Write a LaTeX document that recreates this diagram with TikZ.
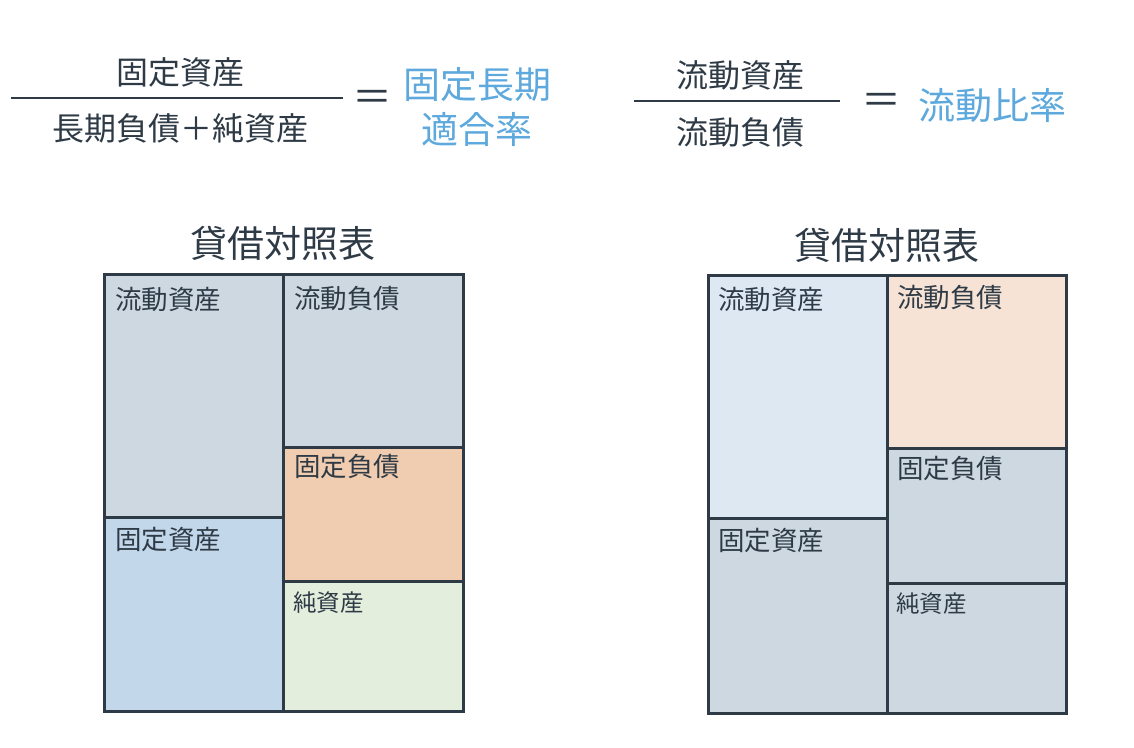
\documentclass[tikz,border=0pt]{standalone}
\usepackage{fontspec}
\setmainfont{Noto Sans CJK JP}
\definecolor{ink}{HTML}{2E3A45}
\definecolor{accent}{HTML}{5DA8DC}
\definecolor{grayblue}{HTML}{CDD8E1}
\definecolor{midblue}{HTML}{C2D7EA}
\definecolor{paleblue}{HTML}{DDE8F3}
\definecolor{orange}{HTML}{F0CDB0}
\definecolor{paleorange}{HTML}{F6E3D6}
\definecolor{palegreen}{HTML}{E3EFDC}
\tikzset{
  cell/.style={draw=ink, line width=2.8pt, anchor=north west, inner sep=0pt},
  lbl/.style={anchor=west, inner sep=0pt, text=ink, font=\fontsize{26.5}{30}\selectfont},
  slbl/.style={anchor=west, inner sep=0pt, text=ink, font=\fontsize{23.5}{27}\selectfont},
  ftxt/.style={inner sep=0pt, text=ink, font=\fontsize{32}{36}\selectfont},
  res/.style={inner sep=0pt, text=accent, font=\fontsize{37}{45}\selectfont, align=center},
  eq/.style={inner sep=0pt, text=ink, font=\fontsize{40}{44}\selectfont},
  ttl/.style={inner sep=0pt, text=ink, font=\fontsize{37}{42}\selectfont},
  bar/.style={draw=ink, line width=2pt}
}
\begin{document}
\begin{tikzpicture}[x=1pt,y=-1pt]
\useasboundingbox (0,0) rectangle (1134,747);
% Formula 1
\node[ftxt] (n1) at (180,72) {固定資産};
\node[ftxt] (d1) at (180,128) {長期負債＋純資産};
\coordinate (b1l) at (11,98);
\coordinate (b1r) at (343,98);
\draw[bar] (b1l) -- (b1r);
\node[eq] (e1) at (372,101) {＝};
\node[res] (r1) at (477,107) {固定長期\\適合率};
% Formula 2
\node[ftxt] (n2) at (740,75) {流動資産};
\node[ftxt] (d2) at (740,132) {流動負債};
\coordinate (b2l) at (634,101);
\coordinate (b2r) at (840,101);
\draw[bar] (b2l) -- (b2r);
\node[eq] (e2) at (881,104) {＝};
\node[res] (r2) at (992,106) {流動比率};
% Left table
\node[ttl] (t1) at (283,243) {貸借対照表};
\node[cell, fill=grayblue, minimum width=179pt, minimum height=243pt] (la) at (103,273) {};
\node[cell, fill=midblue, minimum width=179pt, minimum height=194pt] (lb) at (103,516) {};
\node[cell, fill=grayblue, minimum width=180pt, minimum height=173pt] (lc) at (282,273) {};
\node[cell, fill=orange, minimum width=180pt, minimum height=134pt] (ld) at (282,446) {};
\node[cell, fill=palegreen, minimum width=180pt, minimum height=130pt] (le) at (282,580) {};
\node[lbl] at ([xshift=12pt,yshift=-26pt]la.north west) {流動資産};
\node[lbl] at ([xshift=12pt,yshift=-23pt]lb.north west) {固定資産};
\node[lbl] at ([xshift=12pt,yshift=-26pt]lc.north west) {流動負債};
\node[lbl] at ([xshift=12pt,yshift=-21pt]ld.north west) {固定負債};
\node[slbl] at ([xshift=11pt,yshift=-23pt]le.north west) {純資産};
% Right table
\node[ttl] (t2) at (887,245) {貸借対照表};
\node[cell, fill=paleblue, minimum width=179pt, minimum height=243pt] (ra) at (707,274) {};
\node[cell, fill=grayblue, minimum width=179pt, minimum height=195pt] (rb) at (707,517) {};
\node[cell, fill=paleorange, minimum width=179pt, minimum height=173pt] (rc) at (886,274) {};
\node[cell, fill=grayblue, minimum width=179pt, minimum height=135pt] (rd) at (886,447) {};
\node[cell, fill=grayblue, minimum width=179pt, minimum height=130pt] (re) at (886,582) {};
\node[lbl] at ([xshift=11pt,yshift=-25pt]ra.north west) {流動資産};
\node[lbl] at ([xshift=11pt,yshift=-23pt]rb.north west) {固定資産};
\node[lbl] at ([xshift=11pt,yshift=-24pt]rc.north west) {流動負債};
\node[lbl] at ([xshift=11pt,yshift=-22pt]rd.north west) {固定負債};
\node[slbl] at ([xshift=10pt,yshift=-22pt]re.north west) {純資産};
\end{tikzpicture}
\end{document}
